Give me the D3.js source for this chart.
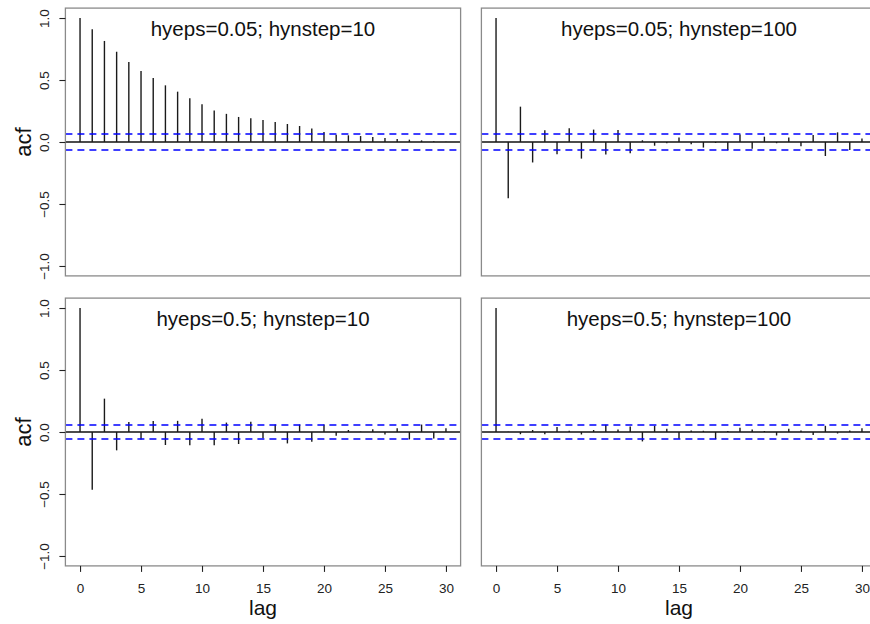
<!DOCTYPE html>
<html>
<head>
<meta charset="utf-8">
<script src="https://cdn.jsdelivr.net/npm/d3@7"></script>
<style>
  html, body { margin: 0; padding: 0; background: #fff; }
  svg { display: block; }
</style>
</head>
<body>
<svg id="chart" width="870" height="624"></svg>
<script>
// ---- data ----
const lags = [0,1,2,3,4,5,6,7,8,9,10,11,12,13,14,15,16,17,18,19,20,21,22,23,24,25,26,27,28,29,30];
const xTickValues = [0,5,10,15,20,25,30];
const yTickValues = [-1,-0.5,0,0.5,1];
const panelTitles = ["hyeps=0.05; hynstep=10", "hyeps=0.05; hynstep=100", "hyeps=0.5; hynstep=10", "hyeps=0.5; hynstep=100"];
const acf_e005_n10 = [1, 0.909, 0.815, 0.728, 0.645, 0.573, 0.516, 0.457, 0.406, 0.352, 0.304, 0.254, 0.227, 0.202, 0.191, 0.177, 0.161, 0.145, 0.129, 0.108, 0.081, 0.059, 0.054, 0.048, 0.040, 0.032, 0.024, 0.019, 0.013, 0.006, 0.002];
const acf_e005_n100 = [1, -0.454, 0.285, -0.165, 0.095, -0.099, 0.110, -0.134, 0.100, -0.100, 0.097, -0.090, 0.014, -0.030, -0.010, 0.036, -0.018, -0.045, -0.008, -0.066, 0.060, -0.054, 0.043, -0.010, 0.036, -0.035, 0.056, -0.113, 0.078, -0.065, 0.028];
const acf_e05_n10 = [1, -0.465, 0.269, -0.148, 0.080, -0.060, 0.088, -0.105, 0.090, -0.106, 0.106, -0.106, 0.076, -0.097, 0.082, -0.050, 0.060, -0.092, 0.060, -0.078, 0.060, -0.031, 0.016, 0.003, 0.022, -0.021, 0.031, -0.060, 0.060, -0.052, 0.031];
const acf_e05_n100 = [1, 0.003, -0.018, 0.016, -0.019, 0.040, 0.010, -0.020, 0.016, 0.058, 0.020, 0.045, -0.076, 0.050, 0.027, -0.054, 0.012, 0.010, -0.057, 0.008, 0.035, 0.020, 0.008, -0.028, 0.027, 0.012, -0.025, 0.050, -0.012, 0.012, 0.030];
const panelSeries = [acf_e005_n10, acf_e005_n100, acf_e05_n10, acf_e05_n100];
const ciLevels = [0.062, 0.062, 0.059, 0.059];

// ---- layout ----
const FONT = "'Liberation Sans', Arial, Helvetica, sans-serif";
const colLeft = [65.4, 481.4];
const rowTop = [8.1, 298.1];
const boxW = 395.2, boxH = 267.8;

const svg = d3.select("#chart");

panelSeries.forEach((vals, i) => {
  const col = i % 2, row = Math.floor(i / 2);
  const L = colLeft[col], T = rowTop[row];
  const x = d3.scaleLinear().domain([-1.2, 31.2]).range([L, L + boxW]);
  const y = d3.scaleLinear().domain([-1.08, 1.08]).range([T + boxH, T]);
  const g = svg.append("g");

  // zero line
  g.append("line")
    .attr("x1", L).attr("x2", L + boxW)
    .attr("y1", y(0)).attr("y2", y(0))
    .attr("stroke", "#111").attr("stroke-width", 1.4);

  // spikes
  g.selectAll("line.spike").data(lags).enter().append("line")
    .attr("class", "spike")
    .attr("x1", d => x(d)).attr("x2", d => x(d))
    .attr("y1", y(0)).attr("y2", d => y(vals[d]))
    .attr("stroke", "#1a1a1a").attr("stroke-width", 1.4);

  // CI dashed lines (drawn over spikes)
  [ciLevels[i], -ciLevels[i]].forEach(c => {
    const yy = Math.round(y(c));
    g.append("line")
      .attr("x1", L).attr("x2", L + boxW)
      .attr("y1", yy).attr("y2", yy)
      .attr("stroke", "#0000ff").attr("stroke-width", 1.7)
      .attr("stroke-dasharray", "7,5");
  });

  // box
  g.append("rect")
    .attr("x", L).attr("y", T).attr("width", boxW).attr("height", boxH)
    .attr("fill", "none").attr("stroke", "#8a8a8a").attr("stroke-width", 1.3);

  // title
  g.append("text")
    .attr("x", L + boxW / 2).attr("y", T + 27.5)
    .attr("text-anchor", "middle")
    .attr("font-family", FONT).attr("font-size", 20.5)
    .attr("fill", "#111")
    .text(panelTitles[i]);

  // y axis on left column
  if (col === 0) {
    const ya = g.append("g").attr("transform", `translate(${L},0)`)
      .call(d3.axisLeft(y).tickValues(yTickValues).tickSize(6).tickFormat(d3.format(".1f")));
    ya.select(".domain").remove();
    ya.selectAll(".tick line").attr("stroke", "#222").attr("stroke-width", 1.1);
    ya.selectAll(".tick text")
      .attr("x", 0).attr("y", -16).attr("dy", 0)
      .attr("text-anchor", "middle")
      .attr("transform", "rotate(-90)")
      .attr("font-family", FONT).attr("font-size", 13.5)
      .attr("fill", "#222");
    g.append("text")
      .attr("transform", `translate(31,${T + boxH / 2}) rotate(-90)`)
      .attr("text-anchor", "middle")
      .attr("font-family", FONT).attr("font-size", 22)
      .attr("fill", "#111")
      .text("acf");
  }

  // x axis on bottom row
  if (row === 1) {
    const xa = g.append("g").attr("transform", `translate(0,${T + boxH})`)
      .call(d3.axisBottom(x).tickValues(xTickValues).tickSize(6).tickFormat(d3.format("d")));
    xa.select(".domain").remove();
    xa.selectAll(".tick line").attr("stroke", "#222").attr("stroke-width", 1.1);
    xa.selectAll(".tick text")
      .attr("y", 27.5).attr("dy", 0)
      .attr("font-family", FONT).attr("font-size", 13.5)
      .attr("fill", "#222");
    g.append("text")
      .attr("x", L + boxW / 2).attr("y", 615)
      .attr("text-anchor", "middle")
      .attr("font-family", FONT).attr("font-size", 21)
      .attr("fill", "#111")
      .text("lag");
  }
});
</script>
</body>
</html>
